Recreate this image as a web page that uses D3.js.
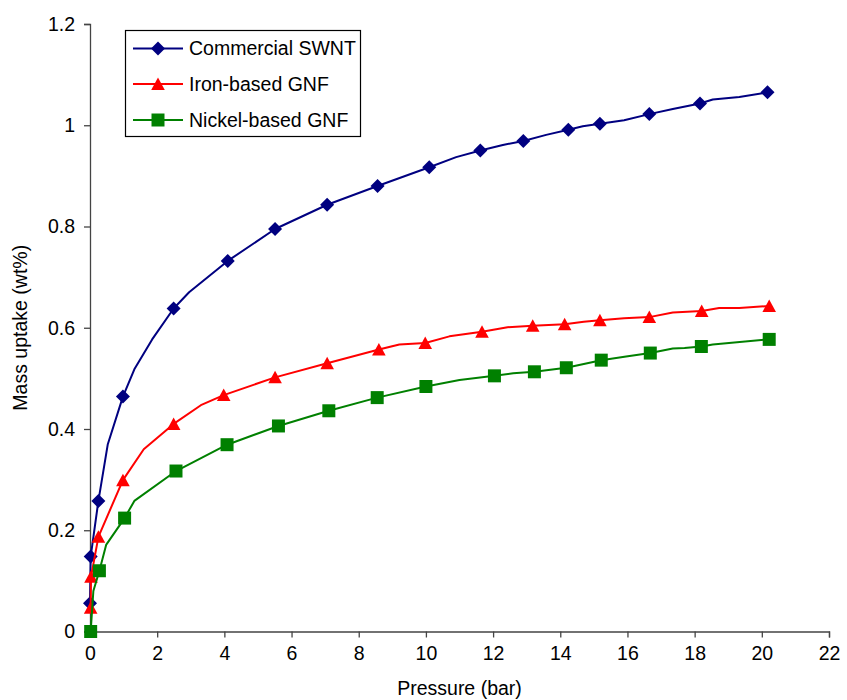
<!DOCTYPE html>
<html>
<head>
<meta charset="utf-8">
<script src="https://cdn.jsdelivr.net/npm/d3@7"></script>
<style>
  html, body { margin: 0; padding: 0; background: #fff; }
  svg { display: block; }
  text { font-family: "Liberation Sans", Arial, sans-serif; fill: #000; }
</style>
</head>
<body>
<svg id="chart" width="847" height="700"></svg>
<script>
// ---------------- data ----------------
const seriesNames = ["Commercial SWNT", "Iron-based GNF", "Nickel-based GNF"];
const seriesColors = ["#000080", "#FF0000", "#008000"];
const seriesShapes = ["diamond", "triangle", "square"];

// Commercial SWNT (line points; marker flag = 1 where a marker is drawn)
const swntP = [0.00, 0.02, 0.25, 0.53, 0.98, 1.32, 1.85, 2.49, 2.95, 4.10, 5.51, 7.06, 8.56, 10.10, 10.90, 11.62, 12.29, 12.90, 13.58, 14.24, 14.67, 15.18, 15.90, 16.65, 17.35, 18.16, 18.54, 19.33, 20.17];
const swntU = [0.056, 0.148, 0.258, 0.370, 0.464, 0.518, 0.577, 0.638, 0.670, 0.732, 0.795, 0.843, 0.880, 0.917, 0.937, 0.950, 0.961, 0.969, 0.981, 0.991, 0.998, 1.003, 1.010, 1.022, 1.032, 1.043, 1.051, 1.056, 1.065];
const swntM = [1, 1, 1, 0, 1, 0, 0, 1, 0, 1, 1, 1, 1, 1, 0, 1, 0, 1, 0, 1, 0, 1, 0, 1, 0, 1, 0, 0, 1];

// Iron-based GNF
const ironP = [0.02, 0.03, 0.25, 0.98, 1.60, 2.49, 3.30, 3.98, 5.51, 7.06, 8.60, 9.21, 9.98, 10.70, 11.67, 12.43, 13.18, 14.13, 14.70, 15.18, 15.90, 16.65, 17.35, 18.21, 18.73, 19.33, 20.22];
const ironU = [0.047, 0.108, 0.187, 0.299, 0.360, 0.410, 0.447, 0.467, 0.502, 0.530, 0.557, 0.567, 0.570, 0.583, 0.592, 0.601, 0.604, 0.607, 0.612, 0.615, 0.619, 0.621, 0.630, 0.633, 0.639, 0.639, 0.643];
const ironM = [1, 1, 1, 1, 0, 1, 0, 1, 1, 1, 1, 0, 1, 0, 1, 0, 1, 1, 0, 1, 0, 1, 0, 1, 0, 0, 1];

// Nickel-based GNF
const nickelP = [0.02, 0.10, 0.28, 0.48, 1.03, 1.32, 2.56, 4.08, 5.61, 7.11, 8.55, 10.00, 11.00, 12.04, 12.60, 13.23, 14.18, 15.22, 15.96, 16.68, 17.35, 17.70, 18.20, 18.54, 20.22];
const nickelU = [0.000, 0.080, 0.120, 0.171, 0.224, 0.258, 0.317, 0.369, 0.406, 0.436, 0.462, 0.484, 0.497, 0.505, 0.510, 0.513, 0.521, 0.536, 0.543, 0.550, 0.559, 0.560, 0.563, 0.567, 0.577];
const nickelM = [1, 0, 1, 0, 1, 0, 1, 1, 1, 1, 1, 1, 0, 1, 0, 1, 1, 1, 0, 1, 0, 0, 1, 0, 1];

const xTicks = [0, 2, 4, 6, 8, 10, 12, 14, 16, 18, 20, 22];
const yTicks = [0, 0.2, 0.4, 0.6, 0.8, 1.0, 1.2];
const xTitle = "Pressure (bar)";
const yTitle = "Mass uptake (wt%)";

// ---------------- layout ----------------
const svg = d3.select("#chart");
const plotLeft = 90, plotRight = 829, plotTop = 24, plotBottom = 631.5;
const x = d3.scaleLinear().domain([0, 22]).range([plotLeft, plotRight]);
const y = d3.scaleLinear().domain([0, 1.2]).range([plotBottom, plotTop]);
const axisColor = "#444";
const fontSize = 19.5;

// axes
const xAxis = svg.append("g").attr("transform", `translate(0,${plotBottom})`)
  .call(d3.axisBottom(x).tickValues(xTicks).tickSize(6).tickPadding(9).tickFormat(d3.format("d")));
const yAxis = svg.append("g").attr("transform", `translate(${plotLeft},0)`)
  .call(d3.axisLeft(y).tickValues(yTicks).tickSize(6).tickPadding(9)
    .tickFormat(d => d === 0 ? "0" : d === 1 ? "1" : d3.format(".1f")(d)));
[xAxis, yAxis].forEach(g => {
  g.select(".domain").attr("stroke", axisColor).attr("stroke-width", 1.3);
  g.selectAll(".tick line").attr("stroke", axisColor).attr("stroke-width", 1.3);
  g.selectAll(".tick text").attr("font-size", fontSize)
    .attr("font-family", '"Liberation Sans", Arial, sans-serif').attr("fill", "#000");
});

// axis titles
svg.append("text").attr("x", (plotLeft + plotRight) / 2).attr("y", 695)
  .attr("text-anchor", "middle").attr("font-size", fontSize).text(xTitle);
svg.append("text").attr("transform", `translate(27,${(plotTop + plotBottom) / 2}) rotate(-90)`)
  .attr("text-anchor", "middle").attr("font-size", fontSize).text(yTitle);

// marker shapes
function markerPath(shape) {
  if (shape === "diamond") return "M0,-7L7,0L0,7L-7,0Z";
  if (shape === "triangle") return "M0,-6.5L6.8,6L-6.8,6Z";
  return "M-6.5,-6.5L6.5,-6.5L6.5,6.5L-6.5,6.5Z";
}

const series = [
  { p: swntP, u: swntU, m: swntM },
  { p: ironP, u: ironU, m: ironM },
  { p: nickelP, u: nickelU, m: nickelM }
];

const line = d3.line().x(d => x(d.p)).y(d => y(d.u));

series.forEach((s, i) => {
  const pts = s.p.map((p, k) => ({ p: p, u: s.u[k], m: s.m[k] }));
  svg.append("path").datum(pts).attr("d", line)
    .attr("fill", "none").attr("stroke", seriesColors[i]).attr("stroke-width", 2)
    .attr("stroke-linejoin", "round");
  svg.append("g").selectAll("path").data(pts.filter(d => d.m === 1)).join("path")
    .attr("d", markerPath(seriesShapes[i]))
    .attr("transform", d => `translate(${x(d.p)},${y(d.u)})`)
    .attr("fill", seriesColors[i]).attr("stroke", "none");
});

// legend
const lg = svg.append("g");
lg.append("rect").attr("x", 125.5).attr("y", 30.5).attr("width", 235).attr("height", 106)
  .attr("fill", "#fff").attr("stroke", "#000").attr("stroke-width", 1.2);
const rowY = [48.5, 84, 120];
seriesNames.forEach((name, i) => {
  lg.append("line").attr("x1", 133).attr("x2", 183).attr("y1", rowY[i]).attr("y2", rowY[i])
    .attr("stroke", seriesColors[i]).attr("stroke-width", 2);
  lg.append("path").attr("d", markerPath(seriesShapes[i]))
    .attr("transform", `translate(158,${rowY[i]})`).attr("fill", seriesColors[i]);
  lg.append("text").attr("x", 189).attr("y", rowY[i]).attr("dy", "0.35em")
    .attr("font-size", fontSize).text(name);
});
</script>
</body>
</html>
